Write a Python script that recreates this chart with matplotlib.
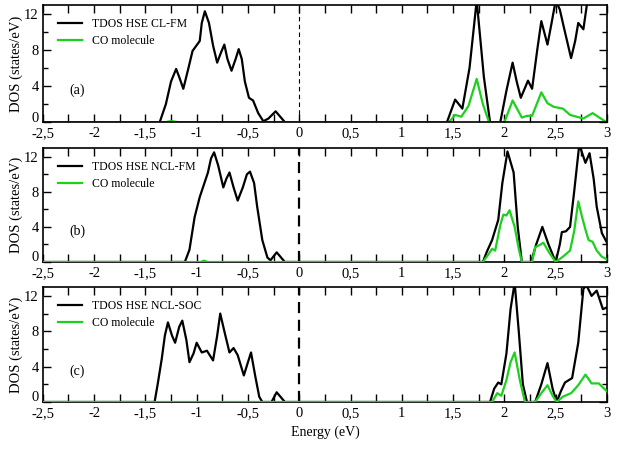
import matplotlib
matplotlib.use('Agg')
from matplotlib import pyplot
from matplotlib.ticker import FuncFormatter
from matplotlib.transforms import ScaledTranslation

# Panel (a): CL-FM
A_BLACK_E = [-2.5, -1.36, -1.30, -1.25, -1.20, -1.17, -1.13, -1.08, -1.04, -0.97, -0.95, -0.92,
             -0.88, -0.84, -0.80, -0.76, -0.73, -0.70, -0.66, -0.62, -0.59, -0.56, -0.53,
             -0.49, -0.45, -0.40, -0.35, -0.30, -0.23, -0.14,
             1.44, 1.52, 1.59, 1.66, 1.73, 1.80, 1.86, 1.96, 2.02, 2.08, 2.12, 2.16, 2.23, 2.27,
             2.32, 2.36, 2.42, 2.46, 2.50, 2.54, 2.58, 2.65, 2.69, 2.72, 2.77, 2.81, 2.85, 3.0]
A_BLACK_V = [0, 0, 2.0, 4.5, 5.9, 5.0, 3.7, 6.0, 7.9, 9.0, 11.0, 12.3,
             11.0, 8.5, 6.6, 7.8, 8.6, 7.0, 5.7, 7.0, 8.1, 7.0, 4.5,
             2.7, 2.4, 1.0, 0.1, 0.4, 1.2, 0,
             0, 2.5, 1.5, 6.0, 13.5, 5.0, 0, 0, 3.5, 6.6, 4.5, 2.7, 4.6, 3.7,
             8.0, 11.2, 8.6, 11.0, 13.5, 12.5, 10.5, 7.1, 9.0, 11.0, 10.3, 13.5, 15, 15]
A_GREEN_E = [-2.5, -1.30, -1.25, -1.18, 1.46, 1.52, 1.58, 1.65, 1.73, 1.79, 1.85, 2.0, 2.08,
             2.17, 2.22, 2.27, 2.36, 2.42, 2.48, 2.57, 2.64, 2.77, 2.86, 2.98, 3.0]
A_GREEN_V = [0, 0, 0.12, 0, 0, 0.8, 0.6, 1.8, 4.8, 2.0, 0, 0, 2.4,
             0.5, 0.7, 0.7, 3.3, 2.1, 1.7, 1.5, 0.8, 0.4, 1.0, 0.1, 0]

# Panel (b): NCL-FM
B_BLACK_E = [-2.5, -1.115, -1.07, -1.02, -0.97, -0.89, -0.86, -0.83, -0.79, -0.74, -0.71, -0.68,
             -0.64, -0.60, -0.55, -0.51, -0.48, -0.44, -0.41, -0.36, -0.31, -0.28, -0.22, -0.14,
             1.79, 1.83, 1.88, 1.94, 1.98, 2.03, 2.09, 2.13, 2.17, 2.26, 2.31, 2.37, 2.43, 2.50,
             2.54, 2.56, 2.60, 2.64, 2.68, 2.73, 2.79, 2.83, 2.87, 2.90, 2.95, 3.0]
B_BLACK_V = [0, 0, 1.4, 5.1, 7.4, 10.2, 11.8, 12.5, 11.0, 8.5, 9.5, 10.2,
             8.5, 7.0, 8.5, 10.0, 10.3, 9.0, 6.3, 2.5, 0.5, 0.2, 1.1, 0,
             0, 1.2, 2.5, 4.8, 9.0, 12.6, 10.2, 4.0, 0, 0, 2.0, 4.0, 2.0, 0,
             2.0, 3.4, 3.5, 4.0, 8.0, 13.4, 11.3, 12.4, 9.5, 6.3, 3.3, 2.2]
B_GREEN_E = [-2.5, -0.96, -0.93, -0.89, 1.79, 1.84, 1.88, 1.91, 1.96, 1.99, 2.02, 2.05, 2.10,
             2.14, 2.17, 2.27, 2.30, 2.34, 2.38, 2.44, 2.50, 2.57, 2.64, 2.68, 2.72, 2.76,
             2.79, 2.82, 2.86, 2.90, 2.95, 3.0]
B_GREEN_V = [0, 0, 0.15, 0, 0, 0.8, 1.5, 1.3, 4.2, 5.4, 5.3, 5.9, 4.0,
             1.5, 0, 0, 1.7, 1.9, 2.2, 1.0, 0, 0.6, 1.3, 3.5, 6.9, 5.0,
             3.7, 2.5, 2.3, 1.3, 0.6, 0.3]

# Panel (c): NCL-SOC
C_BLACK_E = [-2.5, -1.41, -1.38, -1.34, -1.31, -1.28, -1.24, -1.21, -1.17, -1.14, -1.10, -1.07,
             -1.03, -1.0, -0.95, -0.90, -0.84, -0.80, -0.77, -0.73, -0.68, -0.64, -0.60,
             -0.54, -0.50, -0.47, -0.43, -0.39, -0.36, -0.27, -0.22, -0.14,
             1.86, 1.90, 1.94, 1.97, 2.02, 2.06, 2.10, 2.14, 2.18, 2.22, 2.30, 2.36, 2.42,
             2.47, 2.51, 2.55, 2.59, 2.66, 2.72, 2.77, 2.80, 2.85, 2.90, 2.96, 3.0]
C_BLACK_V = [0, 0, 2.0, 4.9, 7.5, 9.0, 7.5, 6.7, 8.5, 9.2, 7.0, 4.5,
             5.5, 6.7, 5.6, 5.8, 4.7, 7.5, 10.0, 8.0, 5.6, 6.1, 5.3,
             3.0, 4.5, 5.6, 3.0, 0.6, 0, 0, 1.1, 0,
             0, 1.5, 2.2, 2.0, 5.5, 10.5, 13.5, 8.0, 2.0, 0, 0, 2.0, 4.4,
             1.5, 0, 1.2, 2.2, 2.7, 6.7, 12.8, 13.2, 12.0, 12.6, 10.5, 10.7]
C_GREEN_E = [-2.5, 1.88, 1.93, 1.97, 2.02, 2.06, 2.10, 2.15, 2.20, 2.30, 2.36, 2.42, 2.47,
             2.51, 2.57, 2.65, 2.72, 2.79, 2.85, 2.92, 3.0]
C_GREEN_V = [0, 0, 1.0, 0.7, 2.5, 4.5, 5.6, 2.5, 0, 0, 1.0, 1.9, 0.7,
             0, 0.6, 1.0, 1.9, 3.1, 2.1, 2.1, 1.2]

LABELS = ['TDOS HSE CL-FM', 'TDOS HSE NCL-FM', 'TDOS HSE NCL-SOC']
TAGS = ['(a)', '(b)', '(c)']
X_MAJOR = [-2.5, -2, -1.5, -1, -0.5, 0, 0.5, 1, 1.5, 2, 2.5, 3]
X_MINOR = [-2.25, -1.75, -1.25, -0.75, -0.25, 0.25, 0.75, 1.25, 1.75, 2.25, 2.75]
Y_MAJOR = [0, 4, 8, 12]
Y_MINOR = [2, 6, 10]
GREEN = '#1ed01e'

pyplot.rcParams['font.family'] = ['Liberation Serif', 'DejaVu Serif']


def CommaFmt(x, pos):
  s = '{:g}'.format(round(x, 2))
  return s.replace('.', ',')


def Run():
  fig = pyplot.figure(figsize=(6.2, 4.49), dpi=100)
  boxes = [(0.069, 0.728, 0.910, 0.261),
           (0.069, 0.4165, 0.910, 0.254),
           (0.069, 0.1047, 0.910, 0.256)]
  data = [(A_BLACK_E, A_BLACK_V, A_GREEN_E, A_GREEN_V),
          (B_BLACK_E, B_BLACK_V, B_GREEN_E, B_GREEN_V),
          (C_BLACK_E, C_BLACK_V, C_GREEN_E, C_GREEN_V)]

  for i, (box, (be, bv, ge, gv)) in enumerate(zip(boxes, data)):
    ax = fig.add_axes(box)
    ax.plot(be, bv, '-', color='black', linewidth=1.6, label=LABELS[i], zorder=3)
    ax.plot(ge, gv, '-', color=GREEN, linewidth=1.6, label='CO molecule', zorder=4)
    ax.axvline(0, color='black', linestyle='--', linewidth=0.8 if i == 0 else 1.6,
               dashes=(4, 3) if i == 0 else (5, 3), zorder=2)
    ax.set_xlim(-2.5, 3)
    ax.set_ylim(0, 13)
    ax.set_xticks(X_MAJOR)
    ax.set_xticks(X_MINOR, minor=True)
    ax.set_yticks(Y_MAJOR)
    ax.set_yticks(Y_MINOR, minor=True)
    ax.xaxis.set_major_formatter(FuncFormatter(CommaFmt))
    ax.tick_params(which='both', direction='in', top=True, right=True, labelsize=10.5,
                   width=1.0)
    ax.tick_params(which='both', length=6)
    ax.tick_params(axis='x', pad=3.5)
    ax.tick_params(axis='y', pad=3)
    ax.tick_params(axis='y', which='minor', length=3.5)
    # lift the "0" a little so it clears the "-2,5" below it
    lab0 = ax.yaxis.get_major_ticks()[0].label1
    lab0.set_transform(lab0.get_transform() +
                       ScaledTranslation(0, 4 / 72., fig.dpi_scale_trans))
    for sp in ax.spines.values():
      sp.set_linewidth(1.2)
      sp.set_zorder(5 if i == 0 else 2.5)
    ax.set_ylabel('DOS (states/eV)', fontsize=10.5, labelpad=1)
    ax.text(-2.24, 3.5, TAGS[i], fontsize=10, ha='left', va='center')
    ax.legend(loc='upper left', frameon=False, fontsize=8.5, handlelength=2.1,
              handletextpad=0.85, labelspacing=0.45, borderaxespad=0.0,
              bbox_to_anchor=(0.018, 0.93))
    if i == 2:
      ax.set_xlabel('Energy (eV)', fontsize=10, labelpad=4)

  fig.savefig('out.png', dpi=100)


if __name__ == '__main__':
  Run()
